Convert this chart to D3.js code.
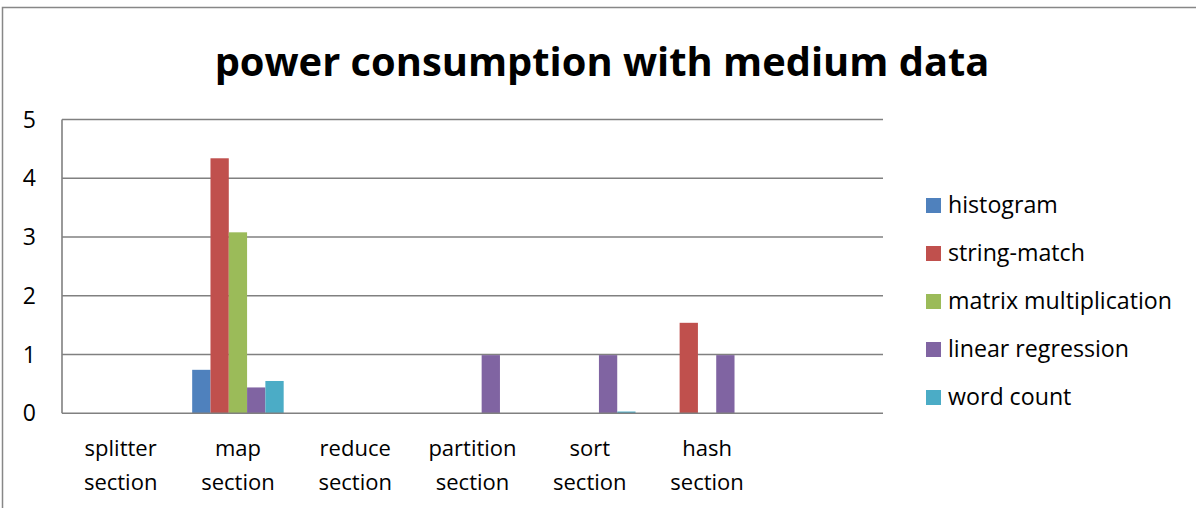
<!DOCTYPE html>
<html><head><meta charset="utf-8">
<script src="https://cdn.jsdelivr.net/npm/d3@7"></script>
<style>body{margin:0;background:#fff}svg{display:block}text{font-family:"Open Sans",sans-serif;fill:#000}</style>
</head><body>
<svg id="c" width="1196" height="508"></svg>
<script>
const categories = ["splitter section","map section","reduce section","partition section","sort section","hash section",""];
const seriesNames = ["histogram","string-match","matrix multiplication","linear regression","word count"];
const histogram = [0,0.74,0,0,0,0,0];
const stringMatch = [0,4.34,0,0,0,1.54,0];
const matrixMult = [0,3.08,0,0,0,0,0];
const linearRegression = [0,0.44,0,0.99,0.99,0.99,0];
const wordCount = [0,0.55,0,0,0.03,0,0];
const yTicks = [0,1,2,3,4,5];
const colors = ["#4F81BD","#C0504D","#9BBB59","#8064A2","#4BACC6"];
const seriesValues = [histogram,stringMatch,matrixMult,linearRegression,wordCount];

const svg = d3.select("#c");
svg.append("path").attr("d","M2.5,508 V7.5 H1196").attr("fill","none").attr("stroke","#878787").attr("stroke-width",1.5);

function fit(sel, w){ const n=sel.node(); const L=n.getComputedTextLength(); const fs=parseFloat(sel.attr("font-size")); sel.attr("font-size", fs*w/L); return fs*w/L; }

const title = svg.append("text").attr("x",602).attr("y",76).attr("text-anchor","middle").attr("font-weight","bold").attr("font-size",40).text("power consumption with medium data");
fit(title,775);

const x = d3.scaleBand().domain(categories.map((d,i)=>i)).range([62,883]).paddingInner(0).paddingOuter(0);
const y = d3.scaleLinear().domain([0,5]).range([413.3,119.5]);
const barW = x.bandwidth()/(5+1.41);
const xs = d3.scaleBand().domain(d3.range(5)).range([0, barW*5]);

svg.append("g").selectAll("line").data(yTicks.filter(d=>d>0)).join("line")
 .attr("x1",62).attr("x2",883).attr("y1",d=>y(d)).attr("y2",d=>y(d)).attr("stroke","#808080").attr("stroke-width",1.6);

seriesValues.forEach((vals,si)=>{
  svg.append("g").selectAll("rect").data(vals.map((v,i)=>({v,i}))).join("rect")
   .attr("x",d=>x(d.i)+(x.bandwidth()-barW*5)/2+xs(si))
   .attr("width",barW).attr("y",d=>y(d.v)).attr("height",d=>y(0)-y(d.v)).attr("fill",colors[si]);
});

svg.append("line").attr("x1",62).attr("x2",62).attr("y1",119.5).attr("y2",413.3).attr("stroke","#808080").attr("stroke-width",1.6);
svg.append("line").attr("x1",62).attr("x2",883).attr("y1",413.3).attr("y2",413.3).attr("stroke","#808080").attr("stroke-width",1.6);

svg.append("g").selectAll("text").data(yTicks).join("text")
 .attr("x",36).attr("y",d=>y(d)+8).attr("text-anchor","end").attr("font-size",23).text(d=>d);

const xl = svg.append("g").selectAll("text").data(categories).join("text")
 .attr("text-anchor","middle").attr("font-size",22);
xl.each(function(d,i){
  const parts=d.split(" ");
  const t=d3.select(this);
  parts.forEach((p,j)=>{ if(p) t.append("tspan").attr("x",x(i)+x.bandwidth()/2).attr("y",456+j*34).text(p); });
});

const lg = svg.append("g");
const probe = lg.append("text").attr("font-size",21).text("matrix multiplication");
const lfs = fit(probe,224); probe.remove();
seriesNames.forEach((n,i)=>{
  const yy = 205+i*48;
  lg.append("rect").attr("x",926).attr("y",yy-7).attr("width",15).attr("height",15).attr("fill",colors[i]);
  lg.append("text").attr("x",948).attr("y",yy+8).attr("font-size",lfs).text(n);
});
</script>
</body></html>
